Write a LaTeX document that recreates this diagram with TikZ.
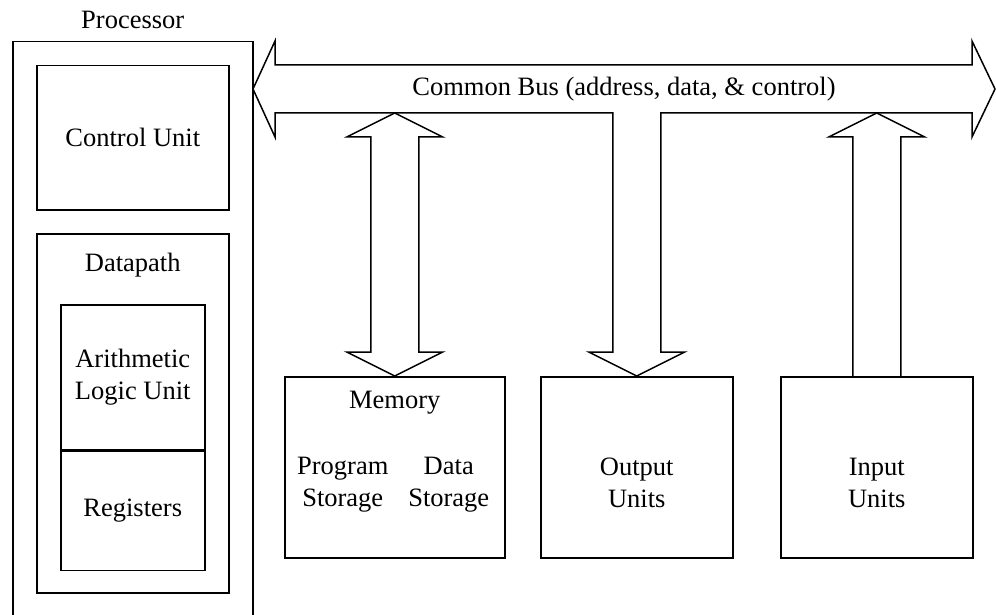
\documentclass[tikz,border=0pt]{standalone}
\usepackage{fontspec}
\setmainfont{Liberation Serif}
\usetikzlibrary{calc,positioning}

\begin{document}
\begin{tikzpicture}[x=1pt,y=-1pt,
    font=\fontsize{26.5}{32}\selectfont,
    box/.style={draw,line width=1.5pt,inner sep=0pt,align=center},
    pipe/.style={draw,line width=1.5pt,line join=miter}]
    \useasboundingbox (0,0) rectangle (996,615);
    \clip (0,0) rectangle (996,615);

    % processor
    \node[box,minimum width=240pt,minimum height=600pt,anchor=north west] (proc) at (12,41) {};
    \node[above=9pt of proc.north] (proclbl) {Processor};
    \node[box,minimum width=192pt,minimum height=144pt,anchor=north west] (ctrl) at (36,65) {Control Unit};
    \node[box,minimum width=192pt,minimum height=359pt,anchor=north west] (dpath) at (36,233) {};
    \node at ($(dpath.north)+(0,32)$) (dpathlbl) {Datapath};
    \node[box,minimum width=144pt,minimum height=145pt,anchor=north west] (alu) at (60,304) {Arithmetic\\Logic Unit};
    \node[box,minimum width=144pt,minimum height=119pt,below=0pt of alu] (regs) {Registers};

    % memory and i/o
    \node[box,minimum width=220pt,minimum height=181pt,anchor=north west] (mem) at (284,376) {};
    \node at ($(mem.north)+(0,27)$) (memlbl) {Memory};
    \node[align=center] at ($(mem.north)+(-52,109)$) (prog) {Program\\Storage};
    \node[align=center] at ($(mem.north)+(54,109)$) (data) {Data\\Storage};
    \node[box,minimum width=192pt,minimum height=181pt,anchor=north west] (out) at (540,376) {};
    \node[align=center] at ($(out.north)+(0,107)$) (outlbl) {Output\\Units};
    \node[box,minimum width=192pt,minimum height=181pt,anchor=north west] (inp) at (780,376) {};
    \node[align=center] at ($(inp.north)+(0,107)$) (inplbl) {Input\\Units};

    % bus
    \coordinate (busW) at (253,89);
    \coordinate (busE) at (995,89);
    \coordinate (busB) at (0,113);
    \node at (624,89) (bus) {Common Bus (address, data, \& control)};
    \draw[pipe] (busW) -- ++(22,-48) -- ++(0,24) -- ($(busE)+(-23,-24)$) -- ++(0,-24)
        -- (busE) -- ++(-23,48) -- ++(0,-24)
        -- ($(busB -| out.north)+(24,0)$) -- ($(out.north)+(24,-24)$) -- ++(24,0)
        -- (out.north) -- ++(-48,-24) -- ++(24,0)
        -- ($(busB -| out.north)+(-24,0)$) -- ($(busW)+(22,24)$) -- ++(0,24) -- cycle;
    \draw[pipe] (busB -| mem.north) -- ++(48,24) -- ++(-24,0) -- ($(mem.north)+(24,-24)$)
        -- ++(24,0) -- (mem.north) -- ++(-48,-24) -- ++(24,0)
        -- ($(busB -| mem.north)+(-24,24)$) -- ++(-24,0) -- cycle;
    \draw[pipe] ($(inp.north)+(-24,0)$) -- ($(busB -| inp.north)+(-24,24)$) -- ++(-24,0)
        -- (busB -| inp.north) -- ++(48,24) -- ++(-24,0) -- ($(inp.north)+(24,0)$);
\end{tikzpicture}
\end{document}
